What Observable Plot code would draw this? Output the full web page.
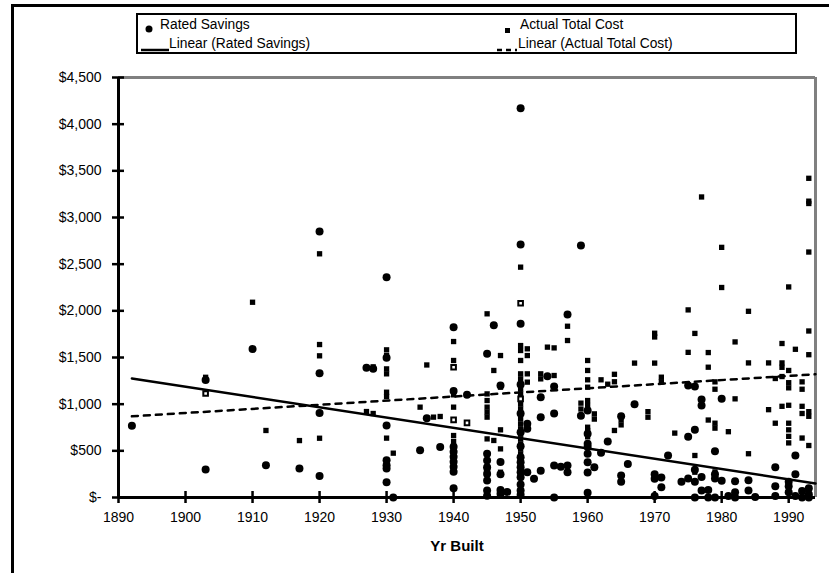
<!DOCTYPE html>
<html><head><meta charset="utf-8">
<script src="https://cdn.jsdelivr.net/npm/d3@7"></script>
<script src="https://cdn.jsdelivr.net/npm/@observablehq/plot@0.6"></script>
<style>
body{margin:0;background:#fff;}
#wrap{position:relative;width:829px;height:573px;overflow:hidden;font-family:"Liberation Sans",Arial,sans-serif;color:#000;background:#fff;}
#chart{position:absolute;left:0;top:0;}
.frameL{position:absolute;left:11px;top:4px;width:3px;height:569px;background:#000;}
.frameT{position:absolute;left:11px;top:4px;width:818px;height:3px;background:#000;}
#legend{position:absolute;left:136px;top:13px;width:657px;height:37px;border:2px solid #000;background:#fff;font-size:13.8px;}
#legend .t{position:absolute;white-space:nowrap;line-height:16px;}
#xtitle{position:absolute;left:457px;top:537px;transform:translateX(-50%);font-weight:bold;font-size:15px;}
</style></head>
<body><div id="wrap">
<div id="chart"></div>
<div class="frameL"></div><div class="frameT"></div>
<div id="legend"></div>
<div id="xtitle">Yr Built</div>
</div>
<script>
// ---- data ----
const seriesNames = ["Rated Savings", "Actual Total Cost", "Linear (Rated Savings)", "Linear (Actual Total Cost)"];
const xTicks = [1890,1900,1910,1920,1930,1940,1950,1960,1970,1980,1990];
const yTicks = [0,500,1000,1500,2000,2500,3000,3500,4000,4500];

const ratedSavings = [
 [1892,770],[1903,1260],[1903,300],[1910,1590],[1912,345],[1917,310],
 [1920,2850],[1920,1330],[1920,905],[1920,230],[1927,1390],[1928,1380],
 [1930,2360],[1930,1496],[1930,771],[1930,400],[1930,346],[1930,311],[1930,164],[1931,0],
 [1935,505],[1936,850],[1938,540],
 [1940,1825],[1940,1140],[1940,543],[1940,490],[1940,436],[1940,382],[1940,329],[1940,275],[1940,100],[1942,1100],
 [1945,1539],[1945,468],[1945,396],[1945,325],[1945,253],[1945,182],[1945,75],[1945,20],
 [1946,1845],[1947,1200],[1947,380],[1947,250],[1947,80],[1947,40],[1948,60],
 [1950,4170],[1950,2710],[1950,1861],[1950,1210],[1950,900],[1950,700],[1950,550],[1950,432],[1950,379],[1950,325],[1950,271],[1950,218],[1950,140],[1950,75],[1950,30],
 [1951,790],[1951,736],[1951,271],[1952,200],[1953,1075],[1953,860],[1953,286],
 [1954,1300],[1955,1190],[1955,343],[1955,0],[1955,900],[1956,330],
 [1957,1960],[1957,343],[1957,270],[1959,2700],[1959,875],
 [1960,932],[1960,682],[1960,575],[1960,542],[1960,469],[1960,378],[1960,269],[1960,50],
 [1961,325],[1962,480],[1963,600],[1965,870],[1965,236],[1965,169],[1966,360],[1967,1000],
 [1970,250],[1970,200],[1970,15],[1971,215],[1971,110],[1972,450],[1974,170],
 [1975,1200],[1975,650],[1975,203],[1976,1190],[1976,725],[1976,296],[1976,169],[1976,0],
 [1977,1050],[1977,986],[1977,220],[1977,75],[1978,0],[1978,80],
 [1979,496],[1979,250],[1979,203],[1979,0],[1980,1057],[1980,180],[1981,15],
 [1982,175],[1982,57],[1982,0],[1984,185],[1984,76],[1985,5],
 [1988,324],[1988,120],[1988,15],[1990,169],[1990,120],[1990,57],
 [1991,450],[1991,250],[1991,15],[1992,70],[1992,0],[1993,100],[1993,35],[1993,0]
];

const actualTotalCost = [
 [1903,1288],[1910,2092],[1912,718],[1917,610],
 [1920,2611],[1920,1639],[1920,1518],[1920,635],[1927,921],[1928,900],[1928,1400],
 [1930,1582],[1930,1521],[1930,1378],[1930,1325],[1930,1128],[1930,1082],[1930,636],[1931,475],
 [1935,968],[1936,1420],[1937,861],[1938,868],
 [1940,1671],[1940,1468],[1940,1100],[1940,968],[1940,664],[1940,600],
 [1945,1968],[1945,1110],[1945,1039],[1945,968],[1945,914],[1945,861],[1945,628],
 [1946,1361],[1946,611],[1947,1521],[1947,1182],[1947,725],[1947,521],[1947,271],
 [1950,2468],[1950,1628],[1950,1575],[1950,1468],[1950,1325],[1950,1271],[1950,1218],[1950,1164],[1950,1111],[1950,1004],[1950,950],[1950,896],[1950,843],[1950,789],[1950,736],[1950,682],[1950,629],[1950,575],[1950,521],[1950,468],
 [1951,1593],[1951,1521],[1951,1325],[1951,1236],[1953,1325],[1953,1271],[1953,289],
 [1954,1611],[1955,1603],[1955,1307],[1957,1835],[1957,1682],
 [1959,1011],[1959,948],[1960,1468],[1960,1361],[1960,1261],[1960,1182],[1960,1039],[1960,986],[1960,753],[1960,718],[1960,690],[1960,650],
 [1961,896],[1961,840],[1962,1261],[1963,1214],[1964,1320],[1964,1240],[1964,718],[1965,778],[1965,832],
 [1967,1440],[1969,920],[1969,860],[1970,218],[1970,1760],[1970,1720],[1970,1440],[1971,1289],[1971,1239],
 [1973,690],[1975,2010],[1975,1555],[1976,1758],[1976,450],[1976,271],
 [1977,3220],[1978,1553],[1978,1396],[1978,830],
 [1979,1239],[1979,1160],[1979,796],[1979,743],[1979,274],
 [1980,2680],[1980,2250],[1981,705],[1982,1667],[1982,1057],
 [1984,1995],[1984,1442],[1984,469],[1987,1442],[1987,941],[1988,1275],[1988,796],
 [1989,1650],[1989,1442],[1989,1395],[1989,1296],[1989,977],
 [1990,2256],[1990,1361],[1990,1230],[1990,1175],[1990,988],[1990,796],[1990,725],[1990,655],[1990,585],
 [1991,1588],[1992,1239],[1992,1160],[1992,977],[1992,900],[1992,637],
 [1993,3420],[1993,3175],[1993,3150],[1993,2630],[1993,1784],[1993,1530],[1993,920],[1993,870],[1993,557]
];
// Actual Total Cost points drawn with an open (white-centred) square in the picture
const actualTotalCostOpen = [
 [1903,1114],[1940,1396],[1940,832],[1942,800],[1945,296],[1950,2082],[1950,1057]
];

const trendRatedSavings = [[1892,1275],[1994,150]];
const trendActualTotalCost = [[1892,870],[1994,1320]];

// ---- chart ----
const fmt = d => d === 0 ? "$-" : "$" + d3.format(",")(d);
const X = d => d[0], Y = d => d[1];
const FS = 14;

const chart = Plot.plot({
  width: 829, height: 573,
  marginLeft: 118, marginRight: 14, marginTop: 77, marginBottom: 76,
  style: "font-family: 'Liberation Sans', Arial, sans-serif; font-size: 14px; color: #000; background: transparent; overflow: visible;",
  x: {domain: [1890, 1994]},
  y: {domain: [0, 4500]},
  marks: [
    Plot.ruleY([4500], {stroke: "#808080", strokeWidth: 3}),
    Plot.ruleX([1994], {stroke: "#808080", strokeWidth: 3}),
    Plot.dot(actualTotalCost, {x: X, y: Y, symbol: "square", r: 3, fill: "#000", stroke: "none"}),
    Plot.dot(actualTotalCostOpen, {x: X, y: Y, symbol: "square", r: 2.6, fill: "#fff", stroke: "#000", strokeWidth: 2}),
    Plot.dot(ratedSavings, {x: X, y: Y, r: 4, fill: "#000", stroke: "none"}),
    Plot.line(trendActualTotalCost, {x: X, y: Y, stroke: "#000", strokeWidth: 2.5, strokeDasharray: "6,6"}),
    Plot.line(trendRatedSavings, {x: X, y: Y, stroke: "#000", strokeWidth: 2.5}),
    Plot.ruleX([1890], {stroke: "#000", strokeWidth: 3}),
    Plot.ruleY([0], {stroke: "#000", strokeWidth: 3}),
    Plot.axisY(yTicks, {tickSize: 12, dx: 6, fill: "none", stroke: "#000", strokeWidth: 2.5, label: null}),
    Plot.axisY(yTicks, {tickSize: 0, tickPadding: 17, tickFormat: fmt, label: null, fill: "#000", fontSize: FS}),
    Plot.axisX(xTicks, {tickSize: 12, dy: -6, fill: "none", stroke: "#000", strokeWidth: 2.5, label: null}),
    Plot.axisX(xTicks, {tickSize: 0, tickPadding: 15, tickFormat: d => String(d), label: null, fill: "#000", fontSize: FS})
  ]
});
document.getElementById("chart").appendChild(chart);

// ---- legend ----
const lg = document.getElementById("legend");
function addText(txt, left, top){ const s=document.createElement("div"); s.className="t"; s.textContent=txt; s.style.left=left+"px"; s.style.top=top+"px"; lg.appendChild(s); }
function addSvg(inner, left, top, w, h){ const d=document.createElement("div"); d.style.cssText=`position:absolute;left:${left}px;top:${top}px;width:${w}px;height:${h}px;`; d.innerHTML=`<svg width="${w}" height="${h}">${inner}</svg>`; lg.appendChild(d); }
addSvg('<circle cx="4" cy="4" r="3.5" fill="#000"/>', 7, 6, 8, 8);
addText(seriesNames[0], 22, 2);
addSvg('<rect x="1" y="1" width="5" height="5" fill="#000"/>', 366, 7, 7, 7);
addText(seriesNames[1], 382, 2);
addSvg('<line x1="0" y1="3" x2="28" y2="3" stroke="#000" stroke-width="2.5"/>', 3, 26, 28, 6);
addText(seriesNames[2], 31, 21);
addSvg('<line x1="0" y1="3" x2="20" y2="3" stroke="#000" stroke-width="2.5" stroke-dasharray="5,4"/>', 359, 26, 20, 6);
addText(seriesNames[3], 380, 21);
</script>
</body></html>
